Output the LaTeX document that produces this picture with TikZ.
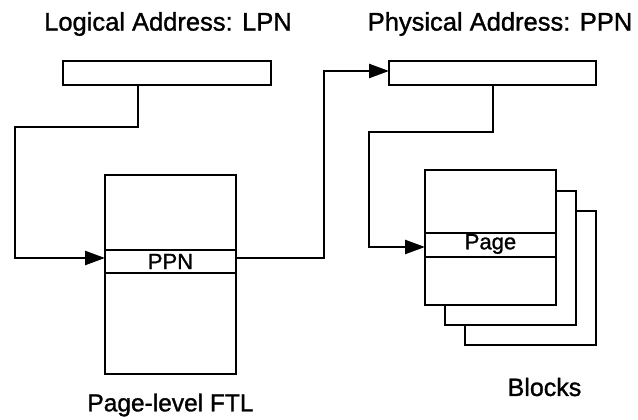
\documentclass[tikz,border=0pt]{standalone}
\usepackage{fontspec}
\setmainfont{Liberation Sans}
\newfontfamily\lblfont{Liberation Sans}[FakeBold=1.2]
\usetikzlibrary{arrows.meta}
\begin{document}
\begin{tikzpicture}[x=1pt,y=-1pt,
  line width=2.4pt,
  box/.style={draw, fill=white, inner sep=0pt, outer sep=0pt, anchor=north west},
  lbl/.style={inner sep=0pt, font=\lblfont\fontsize{25}{30}\selectfont},
  rowtxt/.style={inner sep=0pt, font=\lblfont\fontsize{22}{26}\selectfont},
  link/.style={-{Triangle[length=20pt,width=14pt]}, line join=miter}
]
\useasboundingbox (0,0) rectangle (638,420);

% titles
\node[lbl, font=\lblfont\fontsize{25.5}{30}\selectfont] (tl) at (168,24) {Logical Address: LPN};
\node[lbl, font=\lblfont\fontsize{25.5}{30}\selectfont] (tp) at (500,24) {Physical Address: PPN};

% address registers
\node[box, minimum width=208pt, minimum height=24pt] (lpn) at (63,61) {};
\node[box, minimum width=207pt, minimum height=24pt] (ppn) at (389,61) {};

% page-level mapping table
\node[box, minimum width=131pt, minimum height=199pt] (ftl) at (105,175) {};
\node[box, minimum width=131pt, minimum height=23pt] (ftlrow) at (105,250) {};
\node[rowtxt] at (ftlrow.center) {PPN};
\node[lbl, font=\lblfont\fontsize{24.5}{30}\selectfont] (ftllbl) at (170.5,405) {Page-level FTL};

% stack of flash blocks
\node[box, minimum width=131pt, minimum height=134pt] (blk3) at (465,211) {};
\node[box, minimum width=131pt, minimum height=134pt] (blk2) at (445,191) {};
\node[box, minimum width=131pt, minimum height=135pt] (blk1) at (425,170) {};
\node[box, minimum width=131pt, minimum height=24pt] (page) at (425,233) {};
\node[rowtxt] at ([yshift=1pt]page.center) {Page};
\node[lbl] (blklbl) at (544.5,387) {Blocks};

% LPN indexes the mapping table
\coordinate (c1) at ([xshift=75pt]lpn.south west);
\draw[link] (c1) -- ++(0,42) -| (15,258) -- ([yshift=3.5pt]ftlrow.west);

% table entry gives the physical address
\draw[link] ([yshift=3.5pt]ftlrow.east) -| (324,71) -- ([yshift=2pt]ppn.west);

% PPN selects the page inside a block
\coordinate (c2) at ([xshift=104pt]ppn.south west);
\draw[link] (c2) -- ++(0,47) -| (369,247) -- ([yshift=-2pt]page.west);
\end{tikzpicture}
\end{document}
